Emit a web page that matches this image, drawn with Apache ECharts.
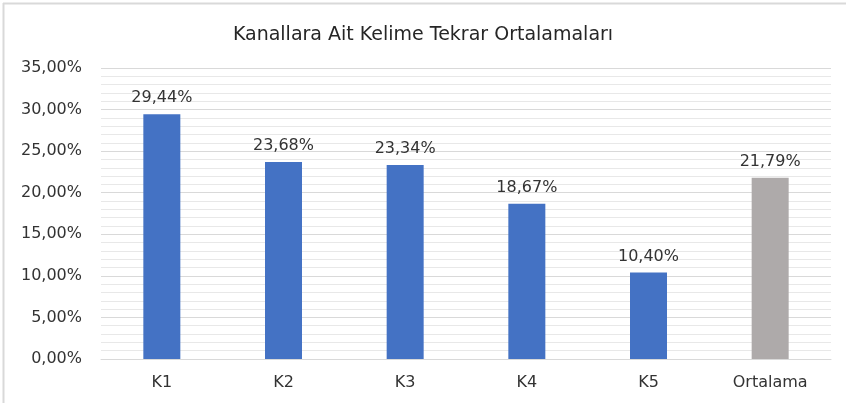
<!DOCTYPE html>
<html><head><meta charset="utf-8">
<script src="https://cdn.jsdelivr.net/npm/echarts@6/dist/echarts.min.js"></script>
<style>html,body{margin:0;padding:0;background:#fff}#c{width:846px;height:403px}</style>
</head><body><div id="c"></div>
<script>
const title = 'Kanallara Ait Kelime Tekrar Ortalamaları';
const categories = ['K1', 'K2', 'K3', 'K4', 'K5', 'Ortalama'];
const values = [29.44, 23.68, 23.34, 18.67, 10.40, 21.79];
const barColors = ['#4472C4', '#4472C4', '#4472C4', '#4472C4', '#4472C4', '#AEAAAA'];
const yMin = 0, yMax = 35, yInterval = 5;

const fmt = v => v.toFixed(2).replace('.', ',') + '%';
const FONT = 'DejaVu Sans';
const TXT = '#333333';

const chart = echarts.init(document.getElementById('c'), null, {renderer: 'canvas'});
chart.setOption({
  animation: false,
  backgroundColor: '#fff',
  title: {
    text: title, left: 'center', top: 21,
    textStyle: {fontFamily: FONT, fontSize: 19, fontWeight: 'normal', color: '#262626'}
  },
  grid: {left: 101, right: 15, top: 68, bottom: 44, containLabel: false},
  xAxis: {
    type: 'category', data: categories,
    axisLine: {lineStyle: {color: '#D9D9D9', width: 1}},
    axisTick: {show: false},
    axisLabel: {fontFamily: FONT, fontSize: 16, color: TXT, margin: 16}
  },
  yAxis: {
    type: 'value', min: yMin, max: yMax, interval: yInterval,
    axisLine: {show: false}, axisTick: {show: false},
    axisLabel: {fontFamily: FONT, fontSize: 16, color: TXT, margin: 19, formatter: fmt},
    splitLine: {lineStyle: {color: '#D9D9D9', width: 1}},
    minorTick: {show: false, splitNumber: 5},
    minorSplitLine: {show: true, lineStyle: {color: '#E8E8E8', width: 1}}
  },
  series: [{
    type: 'bar', barWidth: 37,
    data: values.map((v, i) => ({value: v, itemStyle: {color: barColors[i]}})),
    label: {show: true, position: 'top', distance: 8, fontFamily: FONT, fontSize: 16, color: TXT, formatter: p => fmt(p.value)}
  }],
  graphic: [
    {type: 'line', shape: {x1: 3.5, y1: 3, x2: 3.5, y2: 403}, style: {stroke: '#D9D9D9', lineWidth: 2}},
    {type: 'line', shape: {x1: 3, y1: 3.5, x2: 846, y2: 3.5}, style: {stroke: '#D9D9D9', lineWidth: 2}}
  ]
});
</script></body></html>
